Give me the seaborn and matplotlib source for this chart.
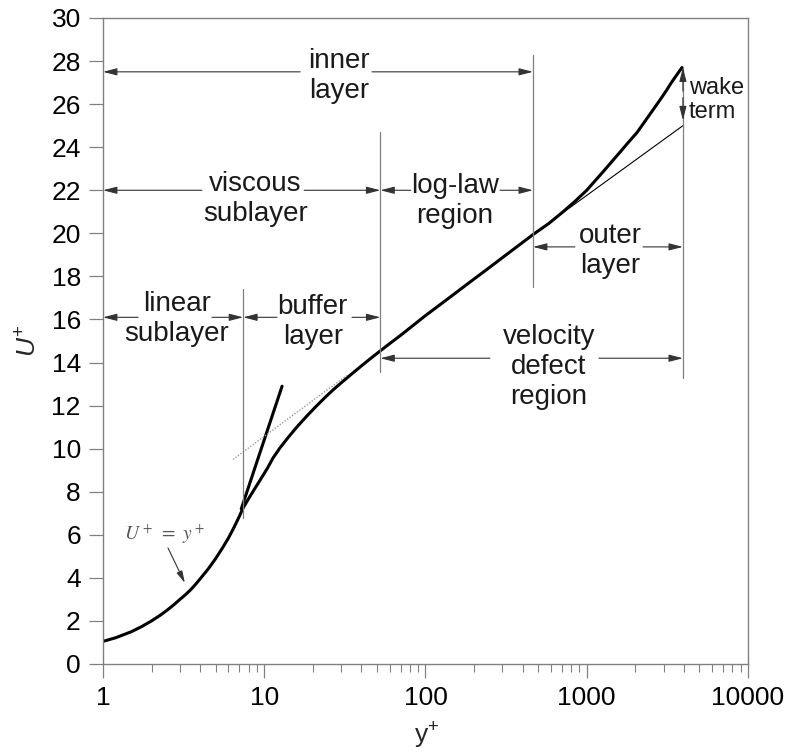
import matplotlib
matplotlib.use("Agg")
import matplotlib.pyplot as plt
import pandas as pd
import seaborn as sns

# velocity profile
yplus = [1, 1.2, 1.5, 1.75, 2, 2.25, 2.5, 2.75, 3, 3.25, 3.5, 3.75, 4, 4.5, 5, 5.5, 6,
         6.5, 7, 7.4, 8, 8.5, 9, 9.5, 10, 10.5, 11.3, 12.5, 14, 16, 18.4, 21, 24, 27,
         30.8, 35, 40, 45, 52, 60, 70, 100, 140, 180, 240, 300, 380, 464, 580, 700,
         850, 1000, 1260, 1600, 1800, 2050, 2450, 2850, 3100, 3350, 3650, 3900]
uplus = [1.05, 1.22, 1.5, 1.75, 2.0, 2.25, 2.5, 2.75, 3.0, 3.22, 3.45, 3.7, 3.95, 4.42,
         4.9, 5.38, 5.85, 6.35, 6.85, 7.25, 7.68, 8.0, 8.3, 8.58, 8.85, 9.11, 9.55,
         10.03, 10.5, 11.02, 11.52, 11.97, 12.4, 12.76, 13.13, 13.48, 13.84, 14.15,
         14.52, 14.88, 15.26, 16.18, 17.0, 17.62, 18.32, 18.87, 19.45, 19.94, 20.45,
         20.95, 21.5, 22.0, 22.85, 23.75, 24.2, 24.68, 25.5, 26.2, 26.6, 27.0, 27.4,
         27.7]

# U+ = y+ line and the log-law line
lin_y = [7.2, 12.9]
lin_u = [7.2, 12.9]
log_dot_y = [6.4, 32.5]
log_dot_u = [9.5, 13.4]
log_sol_y = [464, 3950]
log_sol_u = [19.95, 25.0]

xticks = [1, 10, 100, 1000, 10000]
xtick_labels = ["1", "10", "100", "1000", "10000"]
yticks = list(range(0, 31, 2))

# region limits (vertical lines): x, bottom, top
vlines_x = [7.4, 52.5, 464, 3950]
vlines_lo = [6.8, 13.55, 17.5, 13.3]
vlines_hi = [17.4, 24.7, 28.3, 27.7]

# bracket arrows
br_text = ["inner\nlayer", "viscous\nsublayer", "log-law\nregion", "linear\nsublayer",
           "buffer\nlayer", "outer\nlayer", "velocity\ndefect\nregion"]
br_y = [27.5, 22.0, 22.0, 16.1, 16.1, 19.37, 14.2]
br_left = [1, 1, 52.5, 1, 7.4, 464, 52.5]
br_right = [464, 52.5, 464, 7.4, 52.5, 3950, 3950]
br_gap_l = [16.7, 4.11, 81, 1.65, 12.0, 845, 251]
br_gap_r = [46.6, 17.7, 290, 4.74, 35.0, 2233, 1191]
br_tx = [29, 8.8, 152, 2.88, 20, 1393, 583]
br_ty = [27.3, 21.6, 21.5, 16.0, 15.9, 19.2, 13.8]

sns.set_theme(style="ticks")
plt.rcParams["font.family"] = ["Liberation Sans", "DejaVu Sans"]
plt.rcParams["mathtext.fontset"] = "custom"
plt.rcParams["mathtext.rm"] = "Liberation Sans"
plt.rcParams["mathtext.it"] = "Liberation Sans:italic"

fig = plt.figure(figsize=(7.88, 7.53), dpi=100)
ax = fig.add_axes([0.1307, 0.1182, 0.8185, 0.8579])

df = pd.DataFrame({"y": yplus, "u": uplus})
sns.lineplot(data=df, x="y", y="u", sort=False, estimator=None, color="black",
             lw=2.2, ax=ax)
sns.lineplot(x=lin_y, y=lin_u, sort=False, estimator=None, color="black", lw=2.2, ax=ax)
ax.plot(log_dot_y, log_dot_u, color="#999999", lw=1.0, ls=(0, (1, 1.2)))
ax.plot(log_sol_y, log_sol_u, color="black", lw=0.8)

gray = "#808080"
for x, lo, hi in zip(vlines_x, vlines_lo, vlines_hi):
    ax.plot([x, x], [lo, hi], color=gray, lw=0.9)

arrow = dict(arrowstyle="-|>,head_length=0.7,head_width=0.18", color="#333333",
             lw=0.8, shrinkA=0, shrinkB=0)
for t, y, xl, xr, gl, gr, tx, ty in zip(br_text, br_y, br_left, br_right, br_gap_l,
                                         br_gap_r, br_tx, br_ty):
    ax.annotate("", xy=(xl, y), xytext=(gl, y), arrowprops=arrow)
    ax.annotate("", xy=(xr, y), xytext=(gr, y), arrowprops=arrow)
    ax.text(tx, ty, t, ha="center", va="center", fontsize=20, color="#1a1a1a",
            linespacing=1.2)

# wake term
ax.annotate("", xy=(3950, 27.7), xytext=(3950, 26.6), arrowprops=arrow)
ax.annotate("", xy=(3950, 25.25), xytext=(3950, 26.3), arrowprops=arrow)
ax.text(4306, 26.2, "wake\nterm", ha="left", va="center", fontsize=17,
        color="#1a1a1a", linespacing=1.15)

# U+ = y+ note
ax.text(2.42, 6.05, r"$U^+\ =\ y^+$", ha="center", va="center", fontsize=14,
        color="#555555", math_fontfamily="stix")
ax.annotate("", xy=(3.22, 3.76), xytext=(2.53, 5.39),
            arrowprops=dict(arrowstyle="-|>,head_length=0.6,head_width=0.15",
                            color="#333333", lw=0.8, shrinkA=0, shrinkB=0))

ax.set_xscale("log")
ax.set_xlim(1, 10000)
ax.set_ylim(0, 30)
ax.set_xticks(xticks)
ax.set_xticklabels(xtick_labels)
ax.set_yticks(yticks)
ax.tick_params(axis="both", which="major", direction="out", length=10, width=0.9,
               color=gray, labelsize=19, labelcolor="black", pad=6)
ax.tick_params(axis="x", which="minor", direction="out", length=6, width=0.8,
               color=gray)
for s in ax.spines.values():
    s.set_color(gray)
    s.set_linewidth(1.0)

ax.set_xlabel(r"y$^{+}$", fontsize=19)
ax.set_ylabel(r"$U^{+}$", fontsize=19)
ax.xaxis.set_label_coords(0.502, -0.088)
ax.yaxis.set_label_coords(-0.095, 0.5)

fig.savefig("out.png", dpi=100)
